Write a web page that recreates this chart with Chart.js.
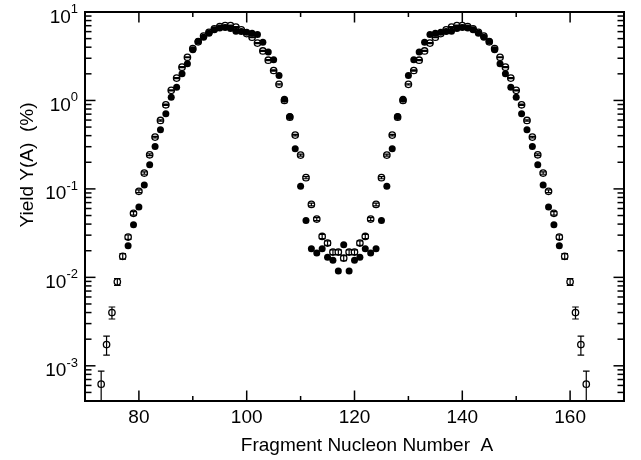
<!DOCTYPE html>
<html><head><meta charset="utf-8">
<script src="https://cdn.jsdelivr.net/npm/chart.js@4"></script>
<style>html,body{margin:0;padding:0;background:#fff}#wrap{width:641px;height:460px}</style>
</head><body><div id="wrap"><canvas id="c" width="641" height="460"></canvas></div>
<script>
// ---- data ----
const openMass = [73,74,75,76,77,78,79,80,81,82,83,84,85,86,87,88,89,90,91,92,93,94,95,96,97,98,99,100,101,102,103,104,105,106,107,108,109,110,111,112,113,114,115,116,117,118,119,120,121,122,123,124,125,126,127,128,129,130,131,132,133,134,135,136,137,138,139,140,141,142,143,144,145,146,147,148,149,150,151,152,153,154,155,156,157,158,159,160,161,162,163];
const openYield = [0.00062,0.00174,0.0040,0.0089,0.0173,0.0285,0.053,0.094,0.151,0.243,0.385,0.594,0.893,1.30,1.79,2.38,3.08,3.85,4.6,5.35,5.9,6.45,6.85,7.03,7.03,6.75,6.3,5.7,5.19,4.45,3.63,2.85,2.18,1.52,1.0,0.647,0.406,0.241,0.134,0.0668,0.0456,0.029,0.0244,0.0193,0.0193,0.0165,0.0193,0.0193,0.0244,0.029,0.0456,0.0668,0.134,0.241,0.406,0.647,1.0,1.52,2.18,2.85,3.63,4.45,5.19,5.7,6.3,6.75,7.03,7.03,6.85,6.45,5.9,5.35,4.6,3.85,3.08,2.38,1.79,1.30,0.893,0.594,0.385,0.243,0.151,0.094,0.053,0.0285,0.0173,0.0089,0.0040,0.00174,0.00062];
const openError = [0.00025,0.00042,0.00062,0.0008,0.0012,0.0016,0.0024,0.0033,0.0045,0.0055,0.0077,0.0107,0.0143,0.0195,0.025,0.031,0.037,0.042,0.046,0.053,0.059,0.064,0.068,0.07,0.07,0.068,0.063,0.06,0.057,0.053,0.047,0.04,0.033,0.024,0.017,0.012,0.0085,0.0058,0.0038,0.0024,0.0018,0.0015,0.0014,0.0012,0.0012,0.0011,0.0012,0.0012,0.0014,0.0015,0.0018,0.0024,0.0038,0.0058,0.0085,0.012,0.017,0.024,0.033,0.04,0.047,0.053,0.057,0.06,0.063,0.068,0.07,0.07,0.068,0.064,0.059,0.053,0.046,0.042,0.037,0.031,0.025,0.0195,0.0143,0.0107,0.0077,0.0055,0.0045,0.0033,0.0024,0.0016,0.0012,0.0008,0.00062,0.00042,0.00025];
const filledMass = [78,79,80,81,82,83,84,85,86,87,88,89,90,91,92,93,94,95,96,97,98,99,100,101,102,103,104,105,106,107,108,109,110,111,112,113,114,115,116,117,118,119,120,121,122,123,124,125,126,127,128,129,130,131,132,133,134,135,136,137,138,139,140,141,142,143,144,145,146,147,148,149,150,151,152,153,154,155,156,157,158];
const filledYield = [0.0228,0.0394,0.0624,0.111,0.188,0.302,0.467,0.708,1.09,1.41,2.0,2.6,3.74,4.68,5.19,5.75,6.3,6.6,6.7,6.5,6.07,6.0,5.9,5.75,5.55,4.56,3.52,2.88,1.91,1.03,0.66,0.284,0.107,0.044,0.0211,0.0188,0.0211,0.0169,0.0156,0.0118,0.0234,0.0118,0.0156,0.0169,0.0211,0.0188,0.0211,0.044,0.107,0.284,0.66,1.03,1.91,2.88,3.52,4.56,5.55,5.75,5.9,6.0,6.07,6.5,6.7,6.6,6.3,5.75,5.19,4.68,3.74,2.6,2.0,1.41,1.09,0.708,0.467,0.302,0.188,0.111,0.0624,0.0394,0.0228];
const xMajorTicks = [80,100,120,140,160];
const xMinorTicks = [90,110,130,150];
const yDecadeTicks = [1e-3,1e-2,1e-1,1,10];
const yDecadeExponents = ['-3','-2','-1','0','1'];
const xTitle = 'Fragment Nucleon Number  A';
const yTitle = 'Yield Y(A)  (%)';

const FONT = "'Liberation Sans', Arial, sans-serif";

const errorBarPlugin = {
  id: 'errorBars',
  afterDatasetDraw(chart, args) {
    if (args.index !== 1) return;
    const {ctx, chartArea: ca, scales: {x, y}} = chart;
    ctx.save();
    ctx.beginPath(); ctx.rect(ca.left, ca.top, ca.right - ca.left, ca.bottom - ca.top); ctx.clip();
    ctx.strokeStyle = '#000'; ctx.lineWidth = 1.2;
    openMass.forEach((m, i) => {
      const px = x.getPixelForValue(m);
      const yHi = y.getPixelForValue(openYield[i] + openError[i]);
      const yLo = y.getPixelForValue(Math.max(openYield[i] - openError[i], 1e-5));
      ctx.beginPath();
      ctx.moveTo(px, yHi); ctx.lineTo(px, yLo);
      ctx.moveTo(px - 3.3, yHi); ctx.lineTo(px + 3.3, yHi);
      ctx.moveTo(px - 3.3, yLo); ctx.lineTo(px + 3.3, yLo);
      ctx.stroke();
    });
    ctx.restore();
  }
};

const framePlugin = {
  id: 'frame',
  afterDatasetsDraw(chart) {
    const {ctx, chartArea: {left, right, top, bottom}, scales: {x, y}} = chart;
    ctx.save();
    ctx.strokeStyle = '#000';
    ctx.lineWidth = 1.5;
    const seg = (a, b, c, d) => { ctx.beginPath(); ctx.moveTo(a, b); ctx.lineTo(c, d); ctx.stroke(); };
    xMajorTicks.forEach(v => { const p = x.getPixelForValue(v); seg(p, bottom, p, bottom - 10.5); seg(p, top, p, top + 10.5); });
    xMinorTicks.forEach(v => { const p = x.getPixelForValue(v); seg(p, bottom, p, bottom - 5); seg(p, top, p, top + 5); });
    const decs = [1e-4].concat(yDecadeTicks);
    decs.forEach(d => {
      for (let k = 1; k <= 9; k++) {
        const v = d * k;
        if (v < y.min * 0.999 || v > y.max * 1.001) continue;
        const p = y.getPixelForValue(v);
        const len = k === 1 ? 10.5 : 6.5;
        seg(left, p, left + len, p); seg(right, p, right - len, p);
      }
    });
    ctx.lineWidth = 2;
    ctx.strokeRect(left, top, right - left, bottom - top);
    // y tick labels with superscript exponents
    ctx.fillStyle = '#000';
    ctx.textBaseline = 'alphabetic';
    yDecadeTicks.forEach((v, i) => {
      const p = y.getPixelForValue(v);
      ctx.font = '13px ' + FONT;
      const ew = ctx.measureText(yDecadeExponents[i]).width;
      const ex = 78 - ew;
      ctx.textAlign = 'left';
      ctx.fillText(yDecadeExponents[i], ex, p + 1);
      ctx.font = '19px ' + FONT;
      ctx.textAlign = 'right';
      ctx.fillText('10', ex, p + 10.5);
    });
    // axis titles
    ctx.font = '19px ' + FONT;
    ctx.textAlign = 'center';
    ctx.fillText(xTitle, 367, 450.5);
    ctx.translate(32.5, 165);
    ctx.rotate(-Math.PI / 2);
    ctx.fillText(yTitle, 0, 0);
    ctx.restore();
  }
};

new Chart(document.getElementById('c'), {
  type: 'scatter',
  data: {
    datasets: [
      { label: 'filled', data: filledMass.map((m, i) => ({x: m, y: filledYield[i]})),
        pointRadius: 3.5, pointBackgroundColor: '#000', pointBorderColor: '#000', pointBorderWidth: 0, showLine: false },
      { label: 'open', data: openMass.map((m, i) => ({x: m, y: openYield[i]})),
        pointRadius: 3.2, pointBackgroundColor: '#fff', pointBorderColor: '#000', pointBorderWidth: 1.3, showLine: false }
    ]
  },
  options: {
    responsive: false, animation: false, devicePixelRatio: 1,
    layout: { padding: { top: 12, right: 17, left: 0, bottom: 0 } },
    plugins: { legend: { display: false }, tooltip: { enabled: false } },
    scales: {
      x: { type: 'linear', min: 70, max: 170,
        afterBuildTicks: s => { s.ticks = xMajorTicks.map(v => ({value: v})); },
        afterFit: s => { s.height = 59; },
        ticks: { color: '#000', font: { family: FONT, size: 19 }, padding: -3, maxRotation: 0, autoSkip: false },
        grid: { display: false }, border: { display: false } },
      y: { type: 'logarithmic', min: 4e-4, max: 10,
        afterFit: s => { s.width = 85; },
        ticks: { display: false },
        grid: { display: false }, border: { display: false } }
    }
  },
  plugins: [errorBarPlugin, framePlugin]
});
</script></body></html>
